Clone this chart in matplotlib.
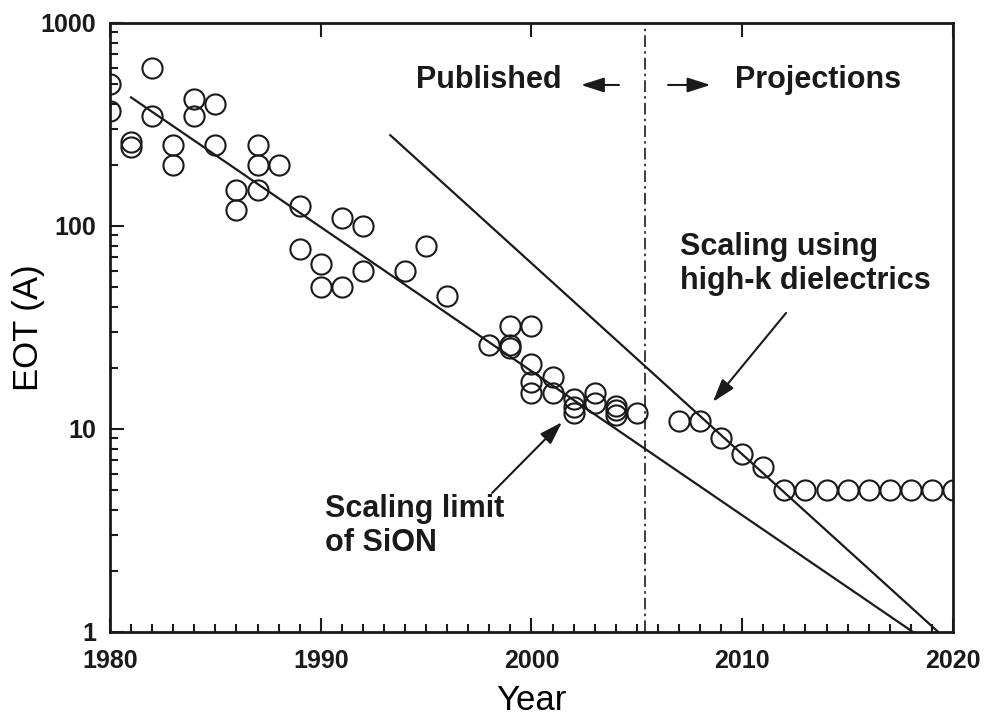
import matplotlib
matplotlib.use("Agg")
import matplotlib.pyplot as plt
from matplotlib import ticker

# ---- data ----
years = [1980, 1980, 1981, 1981, 1982, 1982, 1983, 1983, 1984, 1984,
         1985, 1985, 1986, 1986, 1987, 1987, 1987, 1988, 1989, 1989,
         1990, 1990, 1991, 1991, 1992, 1992, 1994, 1995, 1996, 1998,
         1999, 1999, 1999, 2000, 2000, 2000, 2000, 2001, 2001,
         2002, 2002, 2002, 2003, 2003, 2004, 2004, 2004, 2005,
         2007, 2008, 2009, 2010, 2011,
         2012, 2013, 2014, 2015, 2016, 2017, 2018, 2019, 2020]
eot = [500, 370, 260, 245, 600, 350, 250, 200, 420, 350,
       400, 250, 150, 120, 250, 200, 150, 200, 125, 77,
       65, 50, 110, 50, 100, 60, 60, 80, 45, 26,
       32, 26, 25, 32, 21, 17, 15, 18, 15,
       14, 12.8, 12, 15, 13.5, 13, 12.4, 11.7, 12,
       11, 11, 9, 7.5, 6.5,
       5, 5, 5, 5, 5, 5, 5, 5, 5]

sion_years = [1981.0, 2018.1]
sion_eot = [430, 1]
highk_years = [1993.3, 2019.3]
highk_eot = [280, 1]
boundary_year = 2005.37

x_ticks = [1980, 1990, 2000, 2010, 2020]
y_ticks = [1, 10, 100, 1000]

label_font = ['Liberation Sans Narrow', 'Liberation Sans', 'DejaVu Sans']
text_font = ['Liberation Sans', 'DejaVu Sans']
ink = '#1a1a1a'

fig = plt.figure(figsize=(9.89, 7.25), dpi=100)
ax = fig.add_axes([0.1112, 0.1283, 0.8524, 0.84])

ax.set_yscale('log')
ax.set_xlim(1980, 2020)
ax.set_ylim(1, 1000)

ax.plot(years, eot, linestyle='none', marker='o', markersize=14.5,
        markerfacecolor='none', markeredgecolor=ink, markeredgewidth=1.5,
        zorder=3)
ax.plot(sion_years, sion_eot, color=ink, lw=1.6, zorder=2)
ax.plot(highk_years, highk_eot, color=ink, lw=1.6, zorder=2)
ax.axvline(boundary_year, color=ink, lw=1.2, dashes=(7, 2.5, 1.5, 2.5))

# axes styling
for s in ax.spines.values():
    s.set_linewidth(2.0)
    s.set_color(ink)

ax.set_xticks(x_ticks)
ax.xaxis.set_minor_locator(ticker.MultipleLocator(1))
ax.set_yticks(y_ticks)
ax.yaxis.set_minor_locator(ticker.LogLocator(base=10, subs=range(2, 10)))
ax.yaxis.set_major_formatter(ticker.FuncFormatter(lambda v, _: f"{v:g}"))
ax.yaxis.set_minor_formatter(ticker.NullFormatter())

ax.tick_params(which='both', direction='in', colors=ink, width=1.5,
               top=False, right=False)
ax.tick_params(which='major', length=10, top=True)
ax.tick_params(which='minor', length=6)
ax.tick_params(axis='x', which='major', pad=12)
ax.tick_params(axis='y', which='major', pad=10)

for lab in ax.get_xticklabels() + ax.get_yticklabels():
    lab.set_fontfamily(label_font)
    lab.set_fontweight('bold')
    lab.set_fontsize(18)

ax.set_xlabel('Year', fontsize=25, family=label_font)
ax.xaxis.set_label_coords(0.5, -0.086)
ax.set_ylabel('EOT (A)', fontsize=25, family=text_font)
ax.yaxis.set_label_coords(-0.077, 0.5)

# annotations
tkw = dict(fontsize=22, fontweight='bold', family=text_font, color=ink)
ax.text(2001.45, 524, 'Published', ha='right', va='center', **tkw)
ax.text(2009.66, 524, 'Projections', ha='left', va='center', **tkw)
akw = dict(arrowstyle='-|>,head_length=1.4,head_width=0.45', color=ink, lw=1.5,
           shrinkA=0, shrinkB=0)
ax.annotate('', xy=(2002.35, 495), xytext=(2004.15, 495), arrowprops=akw)
ax.annotate('', xy=(2008.49, 495), xytext=(2006.48, 495), arrowprops=akw)

ax.text(2007.05, 65, 'Scaling using\nhigh-k dielectrics', ha='left', va='center',
        linespacing=1.15, **tkw)
ax.annotate('', xy=(2008.61, 13.6), xytext=(2012.08, 37.3), arrowprops=akw)

ax.text(1990.2, 3.33, 'Scaling limit\nof SiON', ha='left', va='center',
        linespacing=1.15, **tkw)
ax.annotate('', xy=(2001.45, 10.8), xytext=(1998.13, 4.84), arrowprops=akw)

fig.savefig('out.png', dpi=100)
